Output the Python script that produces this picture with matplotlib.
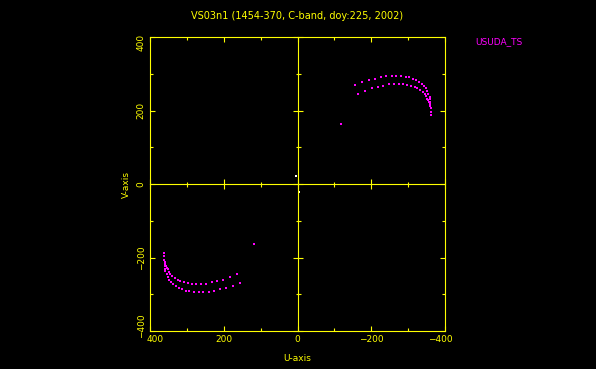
"""
UV coverage plot: VS03n1 (1454-370, C-band), USUDA_TS baselines.
"""

import numpy as np
import matplotlib as mpl
mpl.use("Agg")
import matplotlib.pyplot as plt
import matplotlib.transforms as mtransforms
from matplotlib.ticker import MultipleLocator

mpl.rcParams.update({
    "font.family": "DejaVu Sans",
    "font.size": 7,
})

C_YELLOW = "#FFFF00"
C_MAGENTA = "#FF00FF"
C_WHITE = "#FFFFFF"

# ── data (upper-right half; the lower-left half is the conjugate) ──
OUTER_U = [-157, -176, -194, -211, -227, -241, -256, -268, -281, -293, -303, -313, -322,
           -330, -337, -343, -348, -352, -355, -358, -359, -360, -360, -361, -361, -361]
OUTER_V = [269, 277, 282, 287, 290, 293, 294, 294, 294, 292, 290, 287, 282,
           278, 272, 266, 260, 252, 245, 238, 230, 222, 215, 207, 196, 187]

INNER_U = [-164, -184, -201, -217, -233, -248, -262, -276, -287, -298, -309, -318,
           -325, -332, -339, -345, -349, -352, -355, -357, -359, -360]
INNER_V = [245, 254, 260, 265, 268, 272, 273, 273, 272, 270, 267, 265,
           261, 255, 250, 244, 239, 232, 228, 223, 217, 212]

LONE_U = [-119]
LONE_V = [162]

# short baseline points near the origin (drawn white)
ORIGIN_U = [3]
ORIGIN_V = [23]

TITLE = "VS03n1 (1454-370, C-band, doy:225, 2002)"
STATION = "USUDA_TS"
LIM = 400
TICKS = [-400, -200, 0, 200, 400]


def _shift(label, dx, dy, fig):
    # PGPLOT keeps the end labels inside the frame
    off = mtransforms.ScaledTranslation(dx / 100, dy / 100, fig.dpi_scale_trans)
    label.set_transform(label.get_transform() + off)


def main():
    fig = plt.figure(figsize=(5.96, 3.69), dpi=100, facecolor="black")
    rect = [150 / 596, 1 - 331 / 369, 295 / 596, 294 / 369]

    ax = fig.add_axes(rect, facecolor="black")
    u = np.array(OUTER_U + INNER_U + LONE_U)
    v = np.array(OUTER_V + INNER_V + LONE_V)
    ax.plot(np.concatenate([u, -u]), np.concatenate([v, -v]), ls="none",
            marker="s", ms=1.6, mew=0, color=C_MAGENTA)
    ou, ov = np.array(ORIGIN_U), np.array(ORIGIN_V)
    ax.plot(np.concatenate([ou, -ou]), np.concatenate([ov, -ov]), ls="none",
            marker="s", ms=1.6, mew=0, color=C_WHITE)

    ax.set_xlim(LIM, -LIM)
    ax.set_ylim(-LIM, LIM)
    ax.set_xticks(TICKS)
    ax.set_yticks(TICKS)
    ax.xaxis.set_minor_locator(MultipleLocator(100))
    ax.yaxis.set_minor_locator(MultipleLocator(100))
    for s in ax.spines.values():
        s.set_color(C_YELLOW)
        s.set_linewidth(0.8)
    ax.tick_params(which="both", direction="in", top=True, right=True,
                   color=C_YELLOW, labelcolor=C_YELLOW, width=0.8)
    ax.tick_params(which="major", length=3.8, labelsize=6.5, pad=3)
    ax.tick_params(which="minor", length=2.2)
    xl = ax.set_xticklabels([f"{t:d}".replace("-", "\u2212") for t in TICKS])
    yl = ax.set_yticklabels([f"{t:d}".replace("-", "\u2212") for t in TICKS],
                            rotation=90, va="center")
    _shift(xl[0], -5, 0, fig)
    _shift(xl[-1], 5, 0, fig)
    _shift(yl[0], 0, 5, fig)
    _shift(yl[-1], 0, -5, fig)
    ax.set_xlabel("U-axis", color=C_YELLOW, fontsize=6.5, labelpad=7)
    ax.set_ylabel("V-axis", color=C_YELLOW, fontsize=6.5, labelpad=4)
    ax.set_title(TITLE, color=C_YELLOW, fontsize=7, pad=13)

    # centre cross with crossing ticks
    ax0 = fig.add_axes(rect, facecolor="none", sharex=ax, sharey=ax)
    ax0.spines["left"].set_position(("data", 0))
    ax0.spines["bottom"].set_position(("data", 0))
    ax0.spines["right"].set_visible(False)
    ax0.spines["top"].set_visible(False)
    for s in ("left", "bottom"):
        ax0.spines[s].set_color(C_YELLOW)
        ax0.spines[s].set_linewidth(0.8)
    ax0.tick_params(which="both", direction="inout", color=C_YELLOW, width=0.8,
                    labelbottom=False, labelleft=False)
    ax0.tick_params(which="major", length=6.5)
    ax0.tick_params(which="minor", length=3.6)

    fig.text(475 / 596, 1 - 42 / 369, STATION, color=C_MAGENTA, fontsize=6.5,
             ha="left", va="center")

    fig.savefig("out.png", dpi=100, facecolor="black")
    plt.close(fig)


if __name__ == "__main__":
    main()
